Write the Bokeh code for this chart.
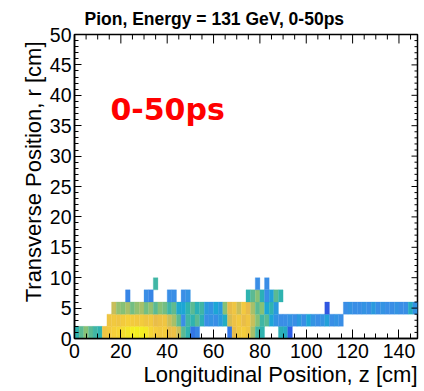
import numpy as np
from bokeh.plotting import figure
from bokeh.models import FixedTicker, Label, ColumnDataSource, Title
from bokeh.transform import linear_cmap
from bokeh.embed import file_html
from bokeh.resources import INLINE

# ---------------- data ----------------
TITLE = "Pion, Energy = 131 GeV, 0-50ps"
X_LABEL = "Longitudinal Position, z [cm]"
Y_LABEL = "Transverse Position, r [cm]"
TAG = "0-50ps"

Z_BIN = 2.0   # cm, longitudinal bin width
R_BIN = 2.0   # cm, transverse bin height
Z_MAX = 148
R_MAX = 50

x_ticks = [0, 20, 40, 60, 80, 100, 120, 140]
x_minor = [5, 10, 15, 25, 30, 35, 45, 50, 55, 65, 70, 75, 85, 90, 95,
           105, 110, 115, 125, 130, 135, 145]
y_ticks = [0, 5, 10, 15, 20, 25, 30, 35, 40, 45, 50]
y_minor = [1, 2, 3, 4, 6, 7, 8, 9, 11, 12, 13, 14, 16, 17, 18, 19, 21, 22, 23, 24,
           26, 27, 28, 29, 31, 32, 33, 34, 36, 37, 38, 39, 41, 42, 43, 44, 46, 47, 48, 49]

# relative intensity per 2 cm z-bin (74 bins, z = 0..148), one list per r-row
row_r0_2 = ([0.40, 0.45, 0.50, 0.45, 0.42, 0.40,
             0.70, 0.72, 0.75, 0.78, 0.82, 0.86, 0.92, 0.94, 0.92, 0.88,
             0.78, 0.74, 0.72, 0.74, 0.66, 0.68, 0.60, 0.45, 0.40,
             0.15, 0.18]
            + [0] * 6
            + [0.15, 0.66, 0.72, 0.74, 0.70, 0.55, 0.42, 0.40]
            + [0] * 3
            + [0.38, 0.35, 0.10]
            + [0] * 27)
row_r2_4 = ([0] * 7
            + [0.70, 0.72, 0.70, 0.73, 0.75, 0.73, 0.72, 0.73, 0.70, 0.72,
               0.66, 0.68, 0.70, 0.60, 0.55, 0.45, 0.20, 0.42, 0.40, 0.45,
               0.38, 0.20, 0.22, 0.20, 0.25, 0.35, 0.62, 0.68, 0.72, 0.66,
               0.70, 0.60, 0.50, 0.42, 0.45, 0.30, 0.22]
            + [0.20, 0.20, 0.22, 0.20, 0.25, 0.20, 0.30, 0.22, 0.20, 0.22,
               0.28, 0.20, 0.22, 0.20]
            + [0] * 16)
row_r4_6 = ([0] * 8
            + [0.60, 0.52, 0.50, 0.55, 0.48, 0.52, 0.55, 0.48, 0.52, 0.45,
               0.50, 0.48, 0.42, 0.46, 0.32, 0.30, 0.40, 0.45, 0.38, 0.42,
               0.25, 0.22, 0.30, 0.25, 0.50, 0.65, 0.70, 0.60, 0.72, 0.65,
               0.55, 0.45, 0.50, 0.30, 0.40, 0.25]
            + [0] * 10
            + [0.08]
            + [0] * 3
            + [0.20, 0.22, 0.20, 0.20, 0.22, 0.20, 0.25, 0.20, 0.22, 0.20,
               0.20, 0.22, 0.20, 0.20, 0.35, 0.22])
row_r6_8 = ([0] * 11 + [0.18] + [0] * 3 + [0.20, 0.18] + [0] * 3 + [0.20, 0.20, 0]
            + [0.20, 0.22] + [0] * 12
            + [0.40, 0.45, 0.50, 0.38, 0.20, 0.28, 0.45, 0.40]
            + [0] * 29)
row_r8_10 = ([0] * 17 + [0.42] + [0] * 21 + [0.20, 0, 0.20] + [0] * 32)

rows = [row_r0_2, row_r2_4, row_r4_6, row_r6_8, row_r8_10]

# ---------------- build cells ----------------
zs, rs, vs = [], [], []
for k, row in enumerate(rows):
    for j, v in enumerate(row):
        if v > 0:
            zs.append(j * Z_BIN + Z_BIN / 2)
            rs.append(k * R_BIN + R_BIN / 2)
            vs.append(v)
src = ColumnDataSource(dict(z=zs, r=rs, v=vs))

# parula-like palette
stops = [0.0, 0.1, 0.2, 0.3, 0.4, 0.5, 0.6, 0.65, 0.75, 0.85, 1.0]
stop_cols = ["#3b3bd0", "#2d5fe6", "#3a8ee6", "#1ba6d6", "#2fb3b0", "#86c177",
             "#c9bf5a", "#e8bb4a", "#f6cf3a", "#f5e42a", "#f2f81a"]
def _rgb(h):
    return [int(h[i:i + 2], 16) for i in (1, 3, 5)]
sc = np.array([_rgb(c) for c in stop_cols], dtype=float)
palette = []
for t in np.linspace(0, 1, 256):
    rgb = [int(round(np.interp(t, stops, sc[:, c]))) for c in range(3)]
    palette.append("#%02x%02x%02x" % tuple(rgb))
cmap = linear_cmap("v", palette, 0.0, 1.0)

# ---------------- figure ----------------
FONT = "Liberation Sans"
p = figure(width=424, height=391, x_range=(0, Z_MAX), y_range=(0, R_MAX),
           output_backend="svg", toolbar_location=None,
           min_border_left=74, min_border_right=7, min_border_top=33, min_border_bottom=53)
p.background_fill_color = "white"
p.border_fill_color = "white"
p.grid.visible = False
p.outline_line_color = "black"
p.outline_line_width = 1.5

p.rect(x="z", y="r", width=Z_BIN, height=R_BIN, source=src,
       fill_color=cmap, line_color=cmap, line_width=0.3)

# title
p.title.text = TITLE
p.title.align = "left"
p.title.offset = 10
p.title.text_font = FONT
p.title.text_font_style = "bold"
p.title.text_font_size = "17.5px"
p.title.text_color = "black"
p.title.standoff = 12

for ax, ticks, minor, mi, mn in ((p.xaxis[0], x_ticks, x_minor, 9, 5),
                                 (p.yaxis[0], y_ticks, y_minor, 7, 4)):
    ax.ticker = FixedTicker(ticks=ticks, minor_ticks=minor)
    ax.major_tick_in = mi
    ax.major_tick_out = 0
    ax.minor_tick_in = mn
    ax.minor_tick_out = 0
    ax.major_tick_line_color = "black"
    ax.minor_tick_line_color = "black"
    ax.axis_line_color = "black"
    ax.axis_line_width = 1.5
    ax.major_label_text_font = FONT
    ax.major_label_text_font_size = "19.5px"
    ax.major_label_text_color = "black"
p.xaxis[0].major_label_standoff = 5
p.yaxis[0].major_label_standoff = 3

# axis titles (ROOT style: aligned to the axis end)
p.add_layout(Title(text=X_LABEL, align="right", offset=0, text_font=FONT,
                   text_font_style="normal", text_font_size="22px", text_color="black",
                   vertical_align="top", standoff=2), "below")
p.add_layout(Title(text=Y_LABEL, align="right", offset=7, text_font=FONT,
                   text_font_style="normal", text_font_size="22px", text_color="black",
                   vertical_align="bottom", standoff=2), "left")

# mirrored ticks on top and right edges (inside the frame)
PX_X = (417 - 74) / Z_MAX   # px per cm along z
PX_Y = 305 / R_MAX          # px per cm along r
p.segment(x0=x_ticks, y0=[R_MAX] * len(x_ticks), x1=x_ticks,
          y1=[R_MAX - 9 / PX_Y] * len(x_ticks), line_color="black", line_width=1)
p.segment(x0=x_minor, y0=[R_MAX] * len(x_minor), x1=x_minor,
          y1=[R_MAX - 5 / PX_Y] * len(x_minor), line_color="black", line_width=1)
p.segment(x0=[Z_MAX] * len(y_ticks), y0=y_ticks, x1=[Z_MAX - 6 / PX_X] * len(y_ticks),
          y1=y_ticks, line_color="black", line_width=1)
p.segment(x0=[Z_MAX] * len(y_minor), y0=y_minor, x1=[Z_MAX - 3 / PX_X] * len(y_minor),
          y1=y_minor, line_color="black", line_width=1)

p.add_layout(Label(x=15.5, y=37.66, text=TAG, text_font="DejaVu Sans",
                   text_font_style="bold", text_font_size="30px", text_color="#ff0000",
                   text_align="left", text_baseline="alphabetic"))

open("out.html", "w").write(file_html(p, INLINE))
